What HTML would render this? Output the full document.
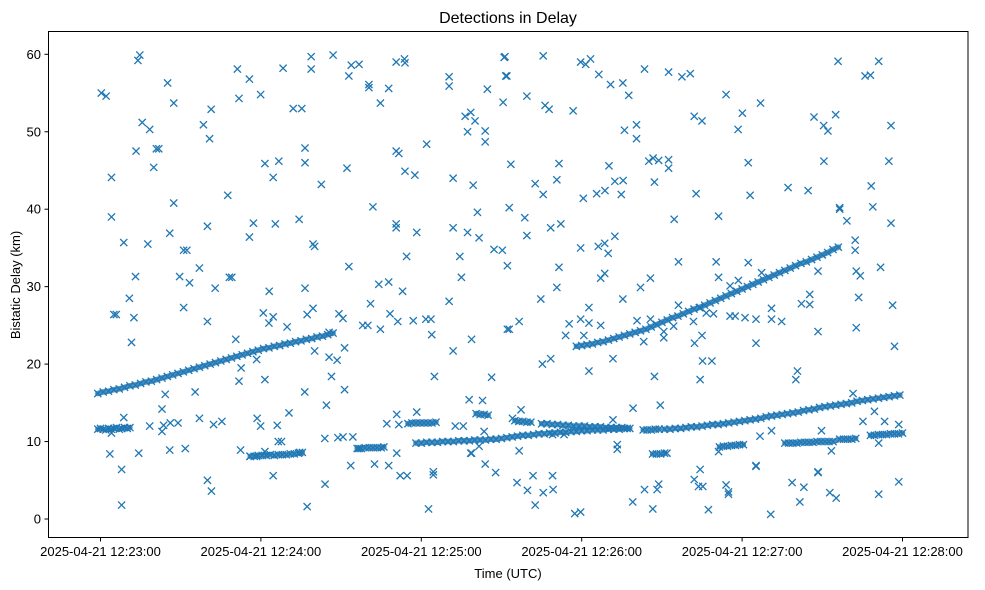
<!DOCTYPE html>
<html>
<head>
<meta charset="utf-8">
<style>
  html,body{margin:0;padding:0;background:#fff;}
  svg{display:block;font-family:"Liberation Sans","DejaVu Sans",sans-serif;}
</style>
</head>
<body>
<svg id="chart" width="985" height="590" viewBox="0 0 985 590" xmlns="http://www.w3.org/2000/svg">
  <rect x="0" y="0" width="985" height="590" fill="#fff"/>
  <text x="508" y="23" text-anchor="middle" font-size="16" fill="#000">Detections in Delay</text>
  <g id="bands"></g>
  <g id="marks"></g>
  <rect x="48.5" y="31.5" width="919.5" height="506" fill="none" stroke="#000" stroke-width="1"/>
  <g id="xaxis"></g>
  <g id="yaxis"></g>
  <text x="508" y="578" text-anchor="middle" font-size="13" fill="#000">Time (UTC)</text>
  <text x="20" y="285" text-anchor="middle" font-size="13" fill="#000" transform="rotate(-90 20 285)">Bistatic Delay (km)</text>
</svg>
<script>
// seconds after 2025-04-21 12:23:00 UTC, delay in km
const xTickSeconds = [0, 60, 120, 180, 240, 300];
const xTickLabels = ["2025-04-21 12:23:00","2025-04-21 12:24:00","2025-04-21 12:25:00","2025-04-21 12:26:00","2025-04-21 12:27:00","2025-04-21 12:28:00"];
const yTickValues = [0, 10, 20, 30, 40, 50, 60];

const upperTrackEarly = [[-1,16.2],[1,16.4],[3,16.5],[5,16.7],[7,16.8],[9,17.0],[11,17.2],[13,17.3],[15,17.5],[17,17.7],[19,17.8],[21,18.0],[23,18.2],[25,18.4],[27,18.6],[29,18.8],[31,19.0],[33,19.2],[35,19.4],[37,19.6],[39,19.8],[41,20.0],[43,20.2],[45,20.4],[47,20.6],[49,20.8],[51,21.0],[53,21.2],[55,21.4],[57,21.6],[59,21.8],[61,22.0],[63,22.1],[65,22.3],[67,22.4],[69,22.6],[71,22.7],[73,22.9],[75,23.0],[77,23.2],[79,23.3],[81,23.5],[83,23.6],[85,23.8],[87,24.0]];

const upperTrackLate = [[178,22.3],[180,22.4],[182,22.5],[184,22.6],[186,22.8],[188,22.9],[190,23.1],[192,23.3],[194,23.5],[196,23.7],[198,23.9],[200,24.1],[202,24.3],[204,24.5],[206,24.8],[208,25.1],[210,25.4],[212,25.7],[214,26.0],[216,26.2],[218,26.5],[220,26.8],[222,27.1],[224,27.3],[226,27.6],[228,27.9],[230,28.2],[232,28.5],[234,28.8],[236,29.1],[238,29.4],[240,29.7],[242,30.0],[244,30.3],[246,30.6],[248,30.9],[250,31.2],[252,31.5],[254,31.8],[256,32.1],[258,32.4],[260,32.7],[262,33.0],[264,33.2],[266,33.5],[268,33.8],[270,34.1],[272,34.4],[274,34.8],[276,35.1]];

const lowerTracks = [[-1,11.6],[0,11.7],[1,11.6],[2,11.5],[3,11.7],[4,11.6],[5,11.7],[6,11.8],[7,11.6],[8,11.7],[9,11.8],[10,11.7],[11,11.8],
[56,8.1],[57.5,8.1],[59,8.2],[60.5,8.2],[62,8.2],[63.5,8.3],[65,8.2],[66.5,8.3],[68,8.3],[69.5,8.3],[71,8.4],[72.5,8.4],[74,8.5],[75.5,8.6],
[96,9.1],[97.5,9.1],[99,9.2],[100.5,9.2],[102,9.2],[103.5,9.2],[105,9.2],[106,9.3],
[115,12.3],[116.5,12.4],[118,12.4],[119.5,12.4],[121,12.4],[122.5,12.4],[124,12.4],[125.5,12.5],
[118,9.8],[120,9.8],[122,9.9],[124,9.9],[126,9.9],[128,10.0],[130,10.0],[132,10.0],[134,10.1],[136,10.1],[138,10.1],[140,10.2],[142,10.2],[144,10.2],[146,10.3],[148,10.3],[150,10.4],[152,10.5],[154,10.6],[156,10.7],[158,10.8],[160,10.8],[162,10.9],[164,11.0],[166,11.0],[168,11.1],[170,11.1],[172,11.2],[174,11.2],[176,11.3],[178,11.3],[180,11.4],[182,11.4],[184,11.5],[186,11.5],[188,11.5],[190,11.6],[192,11.6],[194,11.6],[196,11.7],[198,11.7],
[165,12.3],[167,12.3],[169,12.2],[171,12.2],[173,12.1],[175,12.1],[177,12.0],[179,12.0],[181,12.0],[183,11.9],[185,11.9],[187,11.9],[189,11.8],[191,11.8],[193,11.8],[195,11.8],[197,11.7],
[140.5,13.6],[142,13.5],[143.5,13.5],[145,13.4],
[155,12.7],[156.5,12.6],[158,12.6],[159.5,12.5],[161,12.5],
[203,11.5],[204.5,11.5],[206,11.5],[207.5,11.6],[209,11.6],
[206.5,8.4],[208,8.4],[209.5,8.4],[211,8.5],
[211,11.6],[213,11.6],[215,11.7],[217,11.7],[219,11.8],[221,11.9],[223,11.9],[225,12.0],[227,12.1],[229,12.2],[231,12.2],[233,12.3],[235,12.4],[237,12.5],[239,12.6],[241,12.7],[243,12.8],[245,12.9],[247,13.0],[249,13.2],[251,13.3],[253,13.4],[255,13.5],[257,13.6],[259,13.7],[261,13.8],[263,14.0],[265,14.1],[267,14.2],[269,14.4],[271,14.5],[273,14.6],[275,14.7],[277,14.8],[279,14.9],[281,15.0],[283,15.2],[285,15.3],[287,15.4],[289,15.5],[291,15.6],[293,15.7],[295,15.8],[297,15.9],[299,16.0],
[231.5,9.3],[233,9.4],[234.5,9.4],[236,9.5],[237.5,9.5],[239,9.6],[240.5,9.6],
[256,9.8],[257.5,9.8],[259,9.8],[260.5,9.8],[262,9.9],[263.5,9.9],[265,9.9],[266.5,9.9],[268,10.0],[269.5,10.0],[271,10.0],[272.5,10.0],[274,10.0],
[276.5,10.3],[278,10.3],[279.5,10.3],[281,10.3],[282.5,10.4],
[288,10.8],[289.5,10.8],[291,10.9],[292.5,10.9],[294,10.9],[295.5,11.0],[297,11.0],[298.5,11.0],[300,11.1]];

const clutterHigh = [[0.3,55.0],[2.1,54.6],[14.0,59.2],[14.7,59.9],[25.1,56.3],[27.4,53.7],[15.6,51.2],[18.4,50.3],[13.3,47.5],[20.9,47.8],[21.8,47.8],[19.9,45.4],[4.1,44.1],[27.4,40.8],[38.5,50.9],[41.4,52.9],[40.8,49.1],[51.2,58.1],[55.7,56.8],[51.8,54.3],[59.9,54.8],[68.3,58.2],[72.1,53.0],[75.3,53.0],[61.5,45.9],[66.7,46.2],[64.6,44.1],[47.6,41.8],[78.8,59.7],[78.8,58.1],[76.5,47.9],[76.5,46.0],[82.6,43.2],[87.0,59.9],[93.8,58.6],[96.7,58.7],[92.9,57.2],[100.4,56.1],[100.4,55.7],[107.8,55.6],[104.7,53.7],[92.2,45.3],[101.9,40.3],[110.6,59.0],[113.7,59.4],[113.9,58.9],[110.6,47.5],[111.6,47.2],[113.9,44.9],[117.6,44.4],[122.0,48.4],[130.4,57.1],[130.4,55.9],[131.9,44.0],[136.4,52.0],[138.5,52.5],[140.1,51.4],[137.3,50.0],[143.9,50.1],[143.9,48.7],[139.4,43.1],[144.7,55.5],[151.3,59.7],[151.6,57.2],[150.6,53.8],
[165.6,59.8],[179.6,59.0],[181.5,58.7],[183.3,59.4],[186.4,57.4],[190.8,56.1],[195.4,56.3],[197.6,54.7],[203.5,58.1],[212.5,57.7],[217.5,57.1],[220.6,57.5],[159.5,54.6],[166.3,53.4],[167.8,52.9],[176.8,52.7],[152.0,57.2],[151.0,59.6],[222.1,52.0],[225.0,51.4],[234.0,54.8],[240.1,52.4],[246.9,53.7],[238.5,50.3],[196.0,50.2],[200.5,50.9],[200.5,49.1],[275.9,59.1],[291.1,59.1],[286.0,57.2],[288.0,57.3],[266.9,51.9],[270.5,50.8],[272.1,50.1],[275.0,52.2],[295.7,50.8],[153.5,45.8],[171.5,45.9],[162.6,43.3],[165.6,41.9],[170.7,43.8],[152.9,40.2],[180.6,41.4],[185.6,42.0],[188.7,42.4],[190.2,45.6],[192.4,43.6],[195.5,43.7],[194.8,41.9],[205.1,46.2],[206.7,46.6],[208.8,46.3],[212.5,46.4],[212.5,45.3],[207.2,43.5],[222.8,42.0],[242.3,46.0],[243.0,41.8],[257.2,42.8],[264.7,42.4],[270.6,46.2],[288.3,43.0],[276.5,40.2],[288.9,40.3],[294.9,46.2]];

const clutterMid = [[4.1,39.0],[8.7,35.7],[17.7,35.5],[25.9,36.9],[31.1,34.7],[32.3,34.7],[40.0,37.8],[57.2,38.2],[55.7,36.4],[65.4,38.1],[74.3,38.7],[79.5,35.5],[80.1,35.2],[13.1,31.3],[29.6,31.3],[33.3,30.5],[37.0,32.4],[42.9,29.8],[48.2,31.2],[49.1,31.2],[10.8,28.5],[5.0,26.4],[5.9,26.4],[12.5,26.0],[11.6,22.8],[31.1,27.3],[40.0,25.5],[50.6,23.2],[63.1,29.4],[60.9,26.6],[64.6,26.1],[63.0,25.3],[69.8,24.8],[76.5,29.8],[79.5,27.2],[77.3,26.4],[92.9,32.6],[89.2,26.5],[90.7,25.9],[85.5,24.1],[80.1,21.7],[85.5,20.9],[88.5,20.5],[91.3,22.1],[86.4,18.4],[52.6,19.5],[51.8,17.8],[61.5,18.0],[58.4,20.6],[110.6,38.1],[110.6,37.6],[118.3,37.0],[114.5,33.9],[104.1,30.3],[107.8,30.6],[113.0,29.4],[101.0,27.8],[104.7,24.5],[98.1,25.0],[100.0,25.0],[108.3,26.5],[111.2,25.5],[117.0,25.6],[121.7,25.8],[123.6,25.8],[123.9,23.8],[131.9,37.6],[137.3,37.0],[141.0,39.6],[141.6,36.3],[134.4,33.9],[135.0,31.2],[130.4,28.1],[131.9,21.7],[138.8,23.2],[124.9,18.4],[146.3,18.3],[147.2,34.8],[150.3,34.7],[152.2,32.7],[152.2,24.5],
[158.7,38.9],[159.5,36.6],[168.4,37.6],[172.2,38.1],[179.6,35.0],[186.2,35.2],[188.6,35.6],[192.4,36.5],[189.9,34.3],[171.5,32.5],[170.7,29.9],[164.7,28.4],[187.1,31.1],[188.6,31.7],[214.6,38.7],[231.2,39.1],[216.2,33.2],[230.3,33.2],[242.3,33.1],[231.2,31.2],[205.7,31.1],[202.0,29.9],[195.4,28.4],[182.7,27.3],[156.6,25.5],[152.9,24.5],[175.3,25.2],[179.6,25.8],[182.7,25.3],[187.1,25.0],[174.0,23.7],[180.8,23.7],[200.7,25.6],[205.7,25.8],[216.2,27.6],[224.3,27.3],[226.6,26.6],[229.3,26.5],[235.5,26.2],[237.4,26.2],[241.1,26.0],[245.2,25.8],[251.0,27.2],[251.0,25.8],[254.8,25.5],[262.2,27.8],[265.3,29.0],[265.3,27.7],[268.4,24.2],[221.8,25.5],[214.4,24.9],[210.7,24.2],[210.7,23.4],[203.2,22.9],[222.2,22.7],[225.0,23.7],[245.2,22.7],[235.5,30.1],[238.6,30.8],[247.3,31.8],[268.4,32.0],[276.5,40.0],[279.2,38.5],[295.7,38.2],[282.3,36.0],[282.3,34.7],[282.7,32.0],[284.2,31.4],[291.8,32.5],[283.6,28.6],[296.3,27.6],[282.7,24.7],[297.0,22.3],[165.3,20.0],[168.4,20.7],[182.7,19.1],[191.7,20.7],[207.2,18.4],[224.3,18.0],[225.2,20.4],[228.7,20.4],[260.7,19.1],[260.1,18.0]];

const clutterLow = [[3.5,8.4],[7.9,6.4],[7.9,1.8],[14.3,8.5],[25.9,8.9],[31.7,9.1],[40.0,5.0],[41.5,3.6],[52.4,8.9],[55.9,8.1],[58.4,8.1],[61.5,8.7],[64.6,5.6],[66.5,10.0],[67.7,10.0],[74.5,8.6],[77.3,1.6],[84.0,4.5],[93.6,6.9],[96.7,9.1],[102.5,7.1],[107.8,6.9],[110.8,8.5],[112.1,5.6],[114.7,5.6],[122.7,1.3],[124.5,6.1],[124.5,5.7],[138.8,8.5],[141.6,9.4],[143.9,7.1],[147.8,6.0],
[24.2,16.1],[35.4,16.4],[76.4,16.4],[91.3,16.7],[84.5,14.7],[8.7,13.1],[23.0,14.2],[18.4,12.0],[23.6,12.1],[26.1,12.4],[29.0,12.4],[23.0,11.3],[37.0,13.0],[42.3,12.2],[45.4,12.6],[58.6,13.0],[59.9,12.0],[66.1,12.1],[70.5,13.7],[4.1,11.1],[83.9,10.4],[88.8,10.5],[90.7,10.6],[94.4,10.6],[107.1,12.3],[110.8,13.5],[111.6,12.2],[118.3,13.8],[132.7,12.0],[135.7,12.0],[137.9,15.4],[142.9,15.3],[143.5,11.3],[138.5,8.5],
[157.3,14.1],[154.1,13.0],[156.6,8.8],[169.1,10.9],[173.4,10.9],[191.7,12.8],[199.2,14.3],[209.4,14.7],[193.3,9.6],[193.3,9.0],[211.9,8.5],[246.7,10.7],[251.0,11.4],[245.2,6.8],[281.5,16.2],[289.5,13.9],[285.2,12.6],[293.3,12.6],[298.6,12.2],[273.4,8.8],[269.7,11.4],[268.4,6.1],[231.2,8.7],
[224.3,6.4],[222.1,5.1],[223.7,4.2],[225.3,4.2],[227.4,1.2],[234.0,4.4],[234.9,3.5],[234.9,3.2],[245.2,6.9],[250.7,0.6],[258.7,4.7],[263.1,4.1],[261.6,2.2],[268.4,6.0],[272.8,3.4],[275.2,2.7],[291.1,3.2],[298.6,4.8],[291.1,9.8],[155.8,4.7],[161.8,5.6],[159.7,3.7],[165.6,3.4],[169.3,3.8],[169.1,5.6],[162.6,1.8],[177.4,0.7],[179.6,0.9],[199.1,2.2],[203.5,3.8],[208.2,3.8],[208.8,4.5],[206.6,1.3]];

const NS = "http://www.w3.org/2000/svg";
const X0 = 100.5, X1 = 902.5, T0 = 0, T1 = 300;
const Y0 = 519, Y60 = 54.3;
function xScale(t){ return X0 + (t - T0) * (X1 - X0) / (T1 - T0); }
function yScale(d){ return Y0 + d * (Y60 - Y0) / 60; }

// dense-track bands: join consecutive track detections that are close in time and delay
const bands = document.getElementById('bands');
function drawBands(track){
  let run = [];
  const flush = () => {
    if (run.length > 1) {
      const pl = document.createElementNS(NS, 'polyline');
      pl.setAttribute('points', run.map(p => xScale(p[0]) + ',' + yScale(p[1])).join(' '));
      pl.setAttribute('fill', 'none');
      pl.setAttribute('stroke', '#1f77b4');
      pl.setAttribute('stroke-width', '5.5');
      pl.setAttribute('stroke-opacity', '0.8');
      pl.setAttribute('stroke-linecap', 'round');
      
      
      bands.appendChild(pl);
    }
    run = [];
  };
  track.forEach(p => {
    const last = run[run.length - 1];
    if (last && (p[0] - last[0] <= 0 || p[0] - last[0] > 2.6 || Math.abs(p[1] - last[1]) > 0.6)) flush();
    run.push(p);
  });
  flush();
}
drawBands(upperTrackEarly);
drawBands(upperTrackLate);
drawBands(lowerTracks);

const marks = document.getElementById('marks');
function drawX(p, name){
  const cx = xScale(p[0]), cy = yScale(p[1]), h = 3.6;
  const path = document.createElementNS(NS, 'path');
  path.setAttribute('d', `M${cx-h},${cy-h}L${cx+h},${cy+h}M${cx-h},${cy+h}L${cx+h},${cy-h}`);
  path.setAttribute('stroke', '#1f77b4');
  path.setAttribute('stroke-width', '1.3');
  path.setAttribute('fill', 'none');
  
  
  marks.appendChild(path);
}
upperTrackEarly.forEach(p => drawX(p, 'detection-point'));
upperTrackLate.forEach(p => drawX(p, 'detection-point'));
lowerTracks.forEach(p => drawX(p, 'detection-point'));
clutterHigh.forEach(p => drawX(p, 'detection-point'));
clutterMid.forEach(p => drawX(p, 'detection-point'));
clutterLow.forEach(p => drawX(p, 'detection-point'));

const xaxis = document.getElementById('xaxis');
xTickSeconds.forEach((s, i) => {
  const x = xScale(s);
  const tk = document.createElementNS(NS, 'line');
  tk.setAttribute('x1', x); tk.setAttribute('x2', x);
  tk.setAttribute('y1', 537.5); tk.setAttribute('y2', 541.5);
  tk.setAttribute('stroke', '#000');
  
  
  xaxis.appendChild(tk);
  const lb = document.createElementNS(NS, 'text');
  lb.setAttribute('x', x); lb.setAttribute('y', 556);
  lb.setAttribute('text-anchor', 'middle');
  lb.setAttribute('font-size', '13');
  lb.textContent = xTickLabels[i];
  
  
  xaxis.appendChild(lb);
});
const yaxis = document.getElementById('yaxis');
yTickValues.forEach(v => {
  const y = yScale(v);
  const tk = document.createElementNS(NS, 'line');
  tk.setAttribute('x1', 44.5); tk.setAttribute('x2', 48.5);
  tk.setAttribute('y1', y); tk.setAttribute('y2', y);
  tk.setAttribute('stroke', '#000');
  
  
  yaxis.appendChild(tk);
  const lb = document.createElementNS(NS, 'text');
  lb.setAttribute('x', 41); lb.setAttribute('y', y + 4.5);
  lb.setAttribute('text-anchor', 'end');
  lb.setAttribute('font-size', '13');
  lb.textContent = String(v);
  
  
  yaxis.appendChild(lb);
});
</script>
</body>
</html>
